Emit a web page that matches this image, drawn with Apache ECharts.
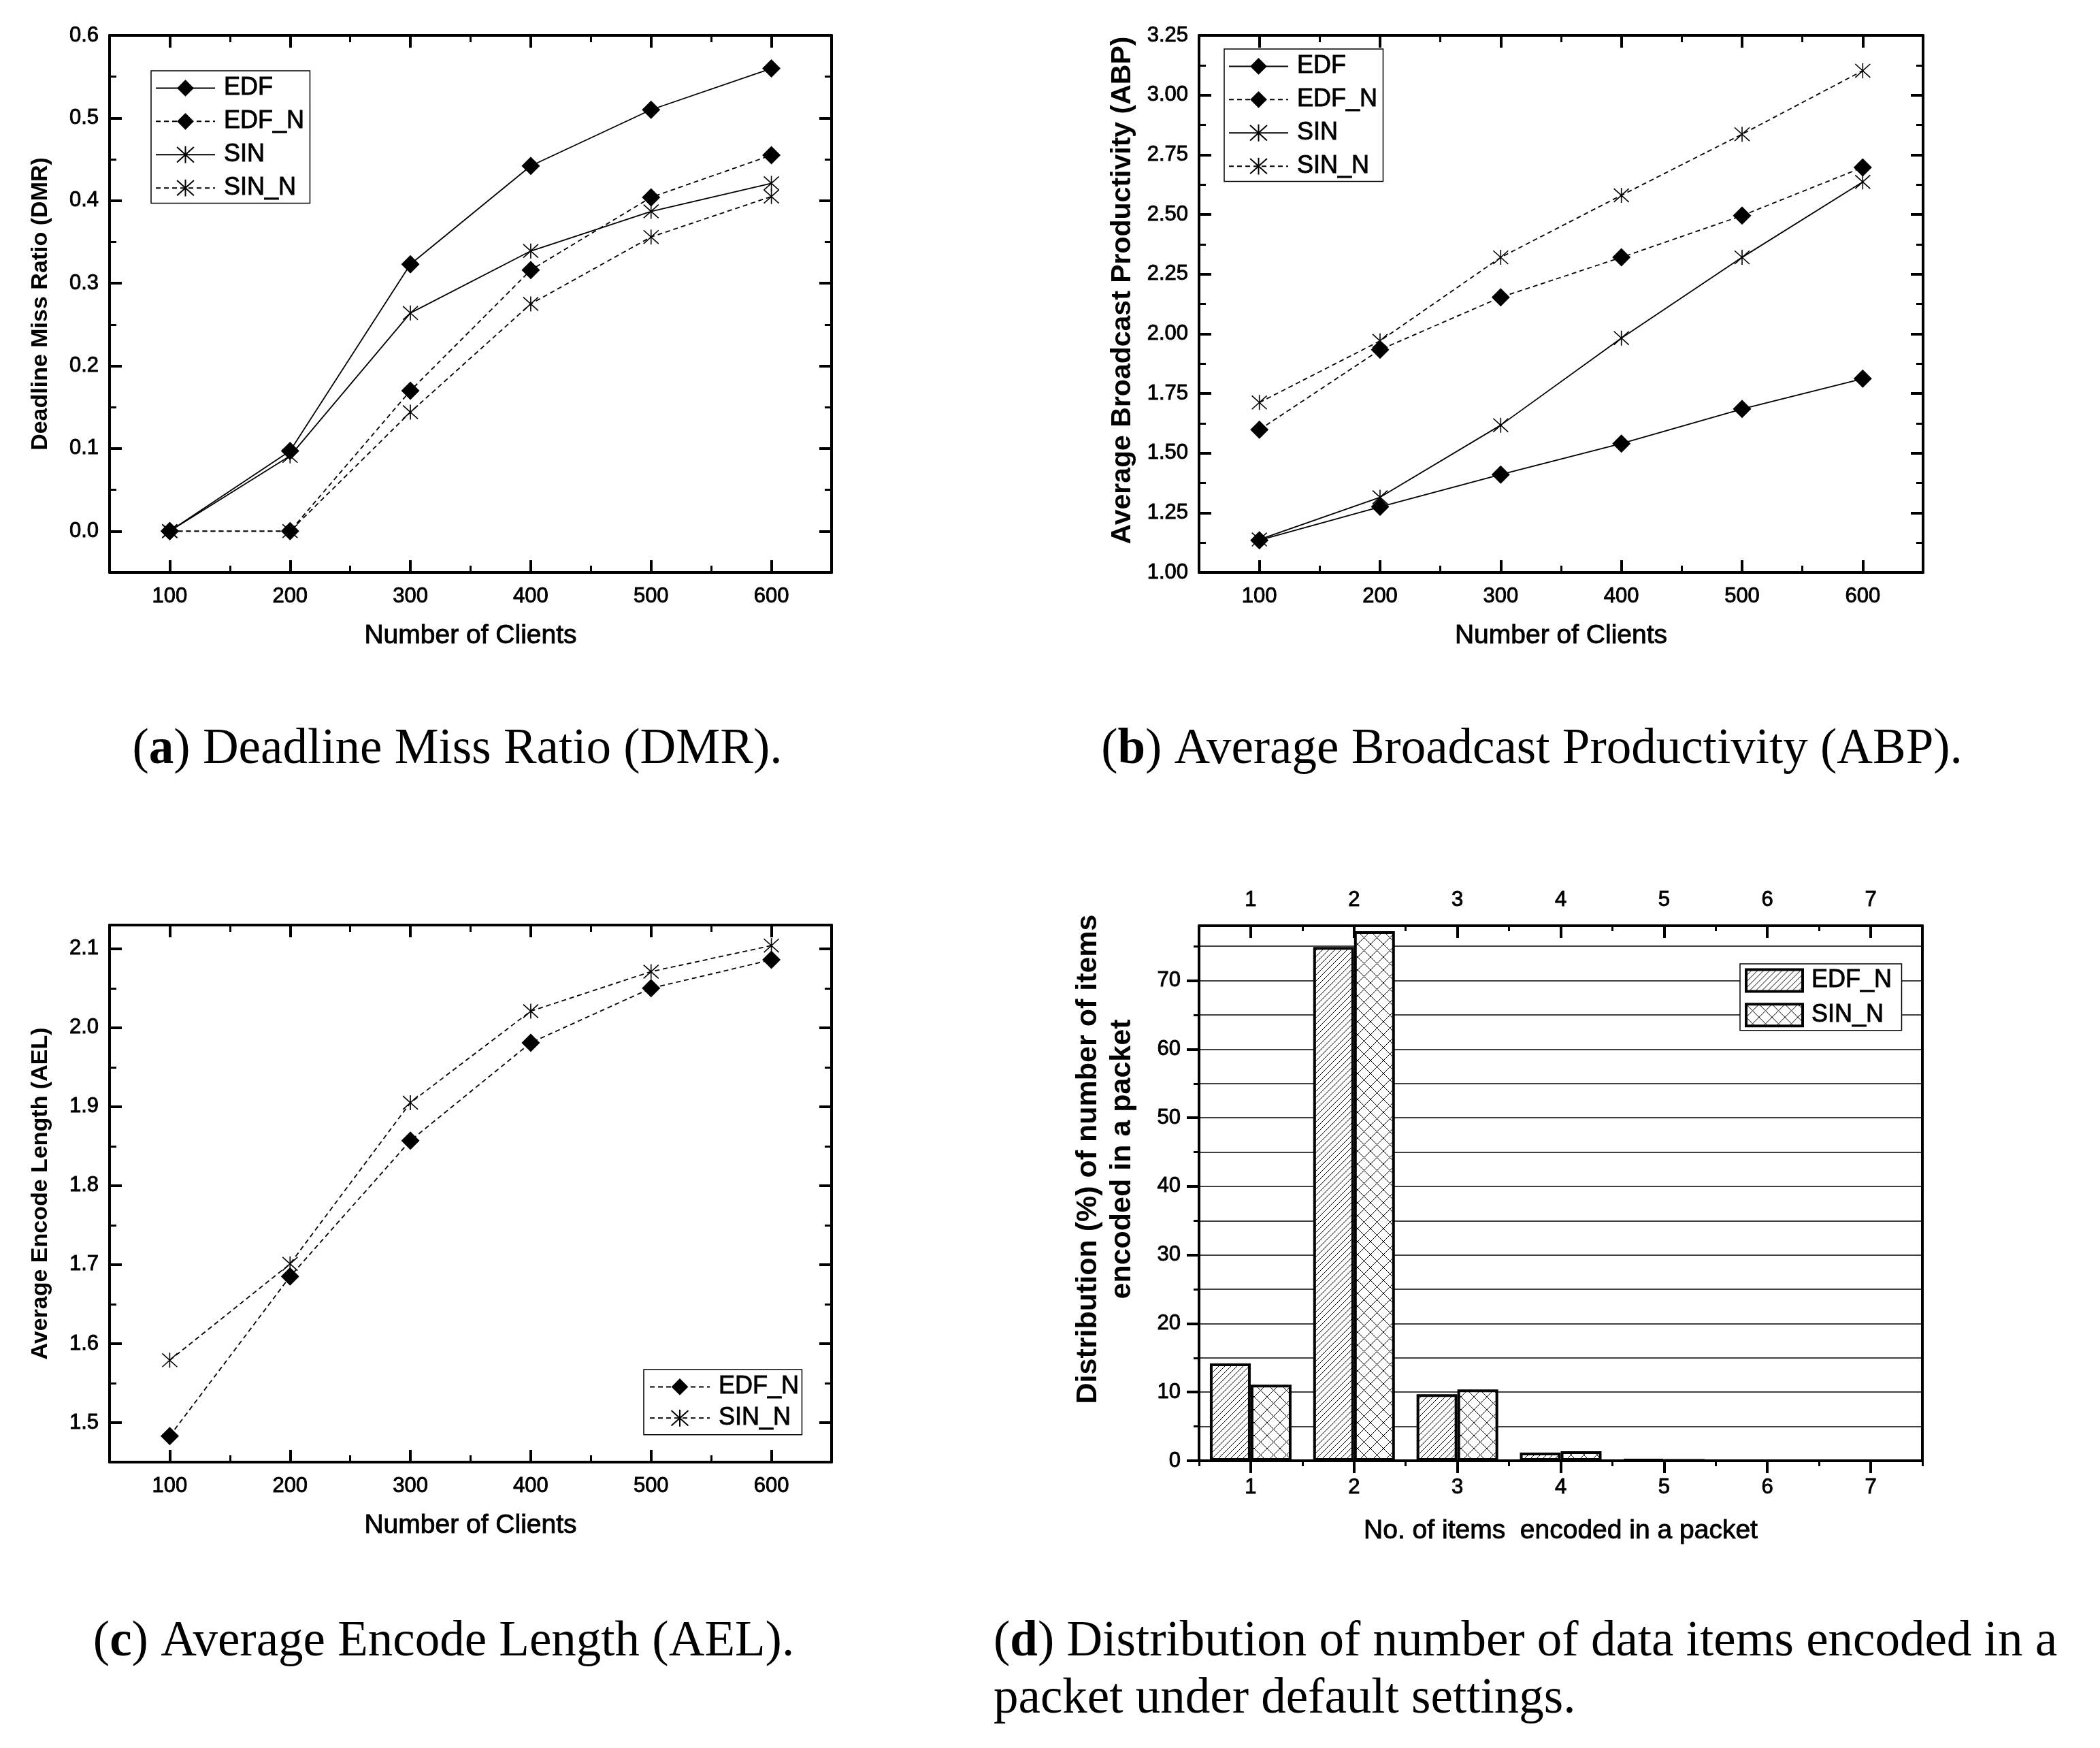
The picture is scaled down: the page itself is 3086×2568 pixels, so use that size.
<!DOCTYPE html>
<html><head><meta charset="utf-8">
<script src="https://cdn.jsdelivr.net/npm/echarts@6/dist/echarts.min.js"></script>
<style>html,body{margin:0;padding:0;background:#fff}#c{width:3086px;height:2568px}</style>
</head><body><div id="c"></div>
<script>
// ---------------- data ----------------
const clients = [100, 200, 300, 400, 500, 600];
const dmrEDF  = [0.000, 0.097, 0.323, 0.442, 0.510, 0.560];
const dmrEDFN = [0.000, 0.000, 0.170, 0.316, 0.404, 0.455];
const dmrSIN  = [0.000, 0.091, 0.264, 0.339, 0.387, 0.421];
const dmrSINN = [0.000, 0.000, 0.144, 0.275, 0.356, 0.405];
const abpEDF  = [1.135, 1.275, 1.410, 1.540, 1.685, 1.812];
const abpEDFN = [1.598, 1.933, 2.153, 2.320, 2.495, 2.697];
const abpSIN  = [1.138, 1.315, 1.617, 1.982, 2.320, 2.636];
const abpSINN = [1.712, 1.970, 2.320, 2.580, 2.836, 3.102];
const aelEDFN = [1.483, 1.685, 1.857, 1.981, 2.050, 2.086];
const aelSINN = [1.579, 1.701, 1.905, 2.021, 2.071, 2.104];
const itemCounts = ['1', '2', '3', '4', '5', '6', '7'];
const distEDFN = [14.2, 74.9, 9.7, 1.2, 0.2, 0, 0];
const distSINN = [11.1, 77.2, 10.4, 1.4, 0.1, 0, 0];
// tick values
const clientTicks = [100, 200, 300, 400, 500, 600];
const clientMinor = [150, 250, 350, 450, 550];
const dmrTicks = [0, 0.1, 0.2, 0.3, 0.4, 0.5, 0.6];
const dmrMinor = [0.05, 0.15, 0.25, 0.35, 0.45, 0.55];
const abpTicks = [1, 1.25, 1.5, 1.75, 2, 2.25, 2.5, 2.75, 3, 3.25];
const abpMinor = [1.125, 1.375, 1.625, 1.875, 2.125, 2.375, 2.625, 2.875, 3.125];
const aelTicks = [1.5, 1.6, 1.7, 1.8, 1.9, 2.0, 2.1];
const aelMinor = [1.55, 1.65, 1.75, 1.85, 1.95, 2.05];
const distTicks = [0, 10, 20, 30, 40, 50, 60, 70];
const distGrid = [0, 5, 10, 15, 20, 25, 30, 35, 40, 45, 50, 55, 60, 65, 70, 75];

// ---------------- styles ----------------
const FONT = "'Liberation Sans', Arial, Helvetica, sans-serif";
const SERIF = "'Liberation Serif', 'Times New Roman', serif";
const STAR = 'path://M10 0L10 20M1 1L19 19M19 1L1 19';
const THICK = { textBorderColor: '#000', textBorderWidth: 0.9 };

function hatch(size, dirs) {
  const c = document.createElement('canvas');
  c.width = size; c.height = size;
  const ctx = c.getContext('2d');
  ctx.fillStyle = '#fff'; ctx.fillRect(0, 0, size, size);
  ctx.strokeStyle = '#000'; ctx.lineWidth = 1.0;
  ctx.beginPath();
  for (let k = -1; k <= 1; k++) {
    if (dirs.indexOf('/') >= 0) { ctx.moveTo(k * size, size); ctx.lineTo(k * size + size, 0); }
    if (dirs.indexOf('\\') >= 0) { ctx.moveTo(k * size, 0); ctx.lineTo(k * size + size, size); }
  }
  ctx.stroke();
  return c;
}
const patDiag = hatch(9, '/');
const patCross = hatch(19, '/\\');

const xAxes = [], yAxes = [];
function valAxis(arr, o) {
  arr.push({
    type: 'value', gridIndex: o.g, position: o.pos, min: o.min, max: o.max,
    axisLine: { show: !!o.line, onZero: false, lineStyle: { color: '#000', width: 4 } },
    axisTick: { show: !!o.ticks, inside: o.inside !== false, length: o.len || 0,
      customValues: o.ticks || [], lineStyle: { color: '#000', width: (o.len || 0) > 12 ? 4 : 3 } },
    axisLabel: Object.assign({ show: !!o.fmt, customValues: o.ticks || [], formatter: o.fmt, margin: o.margin || 8,
      fontSize: 31, color: '#000', fontFamily: FONT }, THICK),
    splitLine: { show: false },
    name: o.name || '', nameLocation: 'middle', nameGap: o.nameGap || 0,
    nameTextStyle: Object.assign({ fontSize: o.nameSize || 38, fontWeight: o.nameBold ? 'bold' : 'normal',
      color: '#000', fontFamily: FONT, padding: o.namePad || 0 }, o.nameBold ? {} : THICK)
  });
  return arr.length - 1;
}

function linePanel(g, ymin, ymax, yTicks, yMinor, yFmt, yName, yNameSize, yNameGap, yNamePad, xNameGap) {
  const xi = valAxis(xAxes, { g, pos: 'bottom', min: 50, max: 650, ticks: clientTicks, len: 18, line: true,
    fmt: v => String(v), margin: 20, name: 'Number of Clients', nameGap: xNameGap, nameSize: 39 });
  valAxis(xAxes, { g, pos: 'bottom', min: 50, max: 650, ticks: clientMinor, len: 10 });
  valAxis(xAxes, { g, pos: 'top', min: 50, max: 650, ticks: clientTicks, len: 18, line: true });
  valAxis(xAxes, { g, pos: 'top', min: 50, max: 650, ticks: clientMinor, len: 10 });
  const yi = valAxis(yAxes, { g, pos: 'left', min: ymin, max: ymax, ticks: yTicks, len: 18, line: true,
    fmt: yFmt, margin: 16, name: yName, nameGap: yNameGap, namePad: yNamePad, nameSize: yNameSize, nameBold: true });
  valAxis(yAxes, { g, pos: 'left', min: ymin, max: ymax, ticks: yMinor, len: 10 });
  valAxis(yAxes, { g, pos: 'right', min: ymin, max: ymax, ticks: yTicks, len: 18, line: true });
  valAxis(yAxes, { g, pos: 'right', min: ymin, max: ymax, ticks: yMinor, len: 10 });
  return [xi, yi];
}

function mkLine(name, vals, ax, dashed, star) {
  return {
    type: 'line', name, xAxisIndex: ax[0], yAxisIndex: ax[1],
    data: clients.map((c, i) => [c, vals[i]]),
    symbol: star ? STAR : 'diamond', symbolSize: star ? 22 : 27,
    lineStyle: { color: '#000', width: 1.8, type: dashed ? [7, 5] : 'solid' },
    itemStyle: star ? { color: 'rgba(0,0,0,0)', borderColor: '#000', borderWidth: 1.6 } : { color: '#000' },
    z: star ? 2 : 3, silent: true
  };
}

function lineLegend(names, left, top, pad, gap, itemW) {
  return {
    orient: 'vertical', left, top, data: names, padding: pad, itemGap: gap,
    itemWidth: itemW, itemHeight: 31, borderColor: '#000', borderWidth: 1.5, backgroundColor: '#fff',
    selectedMode: false,
    textStyle: Object.assign({ fontSize: 36, color: '#000', fontFamily: FONT, padding: [0, 0, 0, 8], lineHeight: 36 }, THICK)
  };
}

// grids
const grids = [
  { left: 161, top: 52, width: 1061, height: 789 },
  { left: 1762, top: 52, width: 1064, height: 789 },
  { left: 161, top: 1359, width: 1061, height: 789 },
  { left: 1762, top: 1360, width: 1063, height: 786 }
];

const axA = linePanel(0, -0.05, 0.6, dmrTicks, dmrMinor, v => v.toFixed(1), 'Deadline Miss Ratio (DMR)', 34, 84, 0, 74);
const axB = linePanel(1, 1.0, 3.25, abpTicks, abpMinor, v => v.toFixed(2), 'Average Broadcast Productivity (ABP)', 41, 92, [0, 0, 0, 40], 74);
const axC = linePanel(2, 1.45, 2.13, aelTicks, aelMinor, v => v.toFixed(1), 'Average Encode Length (AEL)', 34, 84, 0, 74);

// panel d axes
function catAxis(o) {
  xAxes.push({
    type: 'category', gridIndex: 3, position: o.pos, data: itemCounts, boundaryGap: true,
    axisLine: { show: !!o.line, onZero: false, lineStyle: { color: '#000', width: 4 } },
    axisTick: { show: true, interval: 0, alignWithLabel: !!o.align, inside: !!o.inside, length: o.len,
      lineStyle: { color: '#000', width: o.len > 12 ? 4 : 3 } },
    axisLabel: Object.assign({ show: !!o.labels, interval: 0, margin: o.margin || 8, fontSize: 31, color: '#000', fontFamily: FONT }, THICK),
    splitLine: { show: false },
    name: o.name || '', nameLocation: 'middle', nameGap: o.nameGap || 0,
    nameTextStyle: Object.assign({ fontSize: 39, color: '#000', fontFamily: FONT }, THICK)
  });
  return xAxes.length - 1;
}
const dX = catAxis({ pos: 'bottom', labels: true, align: true, len: 18, inside: false, line: true, margin: 24,
  name: 'No. of items  encoded in a packet', nameGap: 84 });
catAxis({ pos: 'bottom', align: false, len: 8, inside: false });
catAxis({ pos: 'top', labels: true, align: true, len: 18, inside: true, line: true, margin: 22 });
catAxis({ pos: 'top', align: false, len: 8, inside: true });

yAxes.push({
  type: 'value', gridIndex: 3, position: 'left', min: 0, max: 78, interval: 5,
  axisLine: { show: true, onZero: false, lineStyle: { color: '#000', width: 4 } },
  axisTick: { show: true, inside: false, length: 8, customValues: distGrid, lineStyle: { color: '#000', width: 3 } },
  axisLabel: Object.assign({ show: true, customValues: distTicks, margin: 27, fontSize: 31, color: '#000', fontFamily: FONT }, THICK),
  splitLine: { show: true, lineStyle: { color: '#000', width: 1.5 } },
  name: 'Distribution (%) of number of items\nencoded in a packet', nameLocation: 'middle', nameGap: 88,
  nameTextStyle: { fontSize: 43, fontWeight: 'bold', lineHeight: 50, color: '#000', fontFamily: FONT, padding: [0, 0, 0, 100] }
});
const dY = yAxes.length - 1;
yAxes.push({
  type: 'value', gridIndex: 3, position: 'left', min: 0, max: 78,
  axisLine: { show: false, onZero: false },
  axisTick: { show: true, inside: false, length: 18, customValues: distTicks, lineStyle: { color: '#000', width: 4 } },
  axisLabel: { show: false }, splitLine: { show: false }
});
yAxes.push({
  type: 'value', gridIndex: 3, position: 'right', min: 0, max: 78,
  axisLine: { show: true, onZero: false, lineStyle: { color: '#000', width: 4 } },
  axisTick: { show: false }, axisLabel: { show: false }, splitLine: { show: false }
});

const series = [
  mkLine('EDF', dmrEDF, axA, false, false),
  mkLine('EDF_N', dmrEDFN, axA, true, false),
  mkLine('SIN', dmrSIN, axA, false, true),
  mkLine('SIN_N', dmrSINN, axA, true, true),
  mkLine('EDF', abpEDF, axB, false, false),
  mkLine('EDF_N', abpEDFN, axB, true, false),
  mkLine('SIN', abpSIN, axB, false, true),
  mkLine('SIN_N', abpSINN, axB, true, true),
  mkLine('EDF_N', aelEDFN, axC, true, false),
  mkLine('SIN_N', aelSINN, axC, true, true),
  { type: 'bar', name: 'EDF_N|bar', xAxisIndex: dX, yAxisIndex: dY, data: distEDFN,
    barWidth: '39.5%', barGap: '0%', silent: true,
    itemStyle: { color: { image: patDiag, repeat: 'repeat' }, borderColor: '#000', borderWidth: 4 } },
  { type: 'bar', name: 'SIN_N|bar', xAxisIndex: dX, yAxisIndex: dY, data: distSINN,
    barWidth: '39.5%', barGap: '0%', silent: true,
    itemStyle: { color: { image: patCross, repeat: 'repeat' }, borderColor: '#000', borderWidth: 4 } }
];

const legends = [
  lineLegend(['EDF', 'EDF_N', 'SIN', 'SIN_N'], 222, 104, [7, 8, 4, 6], 12, 87),
  lineLegend(['EDF', 'EDF_N', 'SIN', 'SIN_N'], 1799, 72, [7, 8, 4, 6], 12, 87),
  lineLegend(['EDF_N', 'SIN_N'], 946, 2012, [7, 4, 6, 8], 9, 88),
  {
    orient: 'vertical', left: 2557, top: 1416, data: ['EDF_N|bar', 'SIN_N|bar'], padding: [6, 14, 4, 7], itemGap: 14,
    itemWidth: 83, itemHeight: 32, icon: 'rect', borderColor: '#000', borderWidth: 1.5, backgroundColor: '#fff',
    selectedMode: false, formatter: n => n.split('|')[0],
    itemStyle: { borderColor: '#000', borderWidth: 4 },
    textStyle: Object.assign({ fontSize: 36, color: '#000', fontFamily: FONT, padding: [0, 0, 0, 8], lineHeight: 36 }, THICK)
  }
];

function caption(x, y, text, align) {
  return {
    type: 'text', x, y, silent: true,
    style: { text, align, verticalAlign: 'middle', fontSize: 73, fontFamily: SERIF, fill: '#000',
      rich: { b: { fontSize: 73, fontFamily: SERIF, fontWeight: 'bold', fill: '#000' } } }
  };
}

const option = {
  animation: false,
  backgroundColor: '#fff',
  grid: grids,
  xAxis: xAxes,
  yAxis: yAxes,
  legend: legends,
  series,
  graphic: [
    caption(672, 1102, '({b|a}) Deadline Miss Ratio (DMR).', 'center'),
    caption(2251, 1102, '({b|b}) Average Broadcast Productivity (ABP).', 'center'),
    caption(652, 2413, '({b|c}) Average Encode Length (AEL).', 'center'),
    caption(1460, 2413, '({b|d}) Distribution of number of data items encoded in a', 'left'),
    caption(1460, 2497, 'packet under default settings.', 'left')
  ]
};
const chart = echarts.init(document.getElementById('c'), null, { renderer: 'canvas' });
chart.setOption(option);
</script></body></html>
